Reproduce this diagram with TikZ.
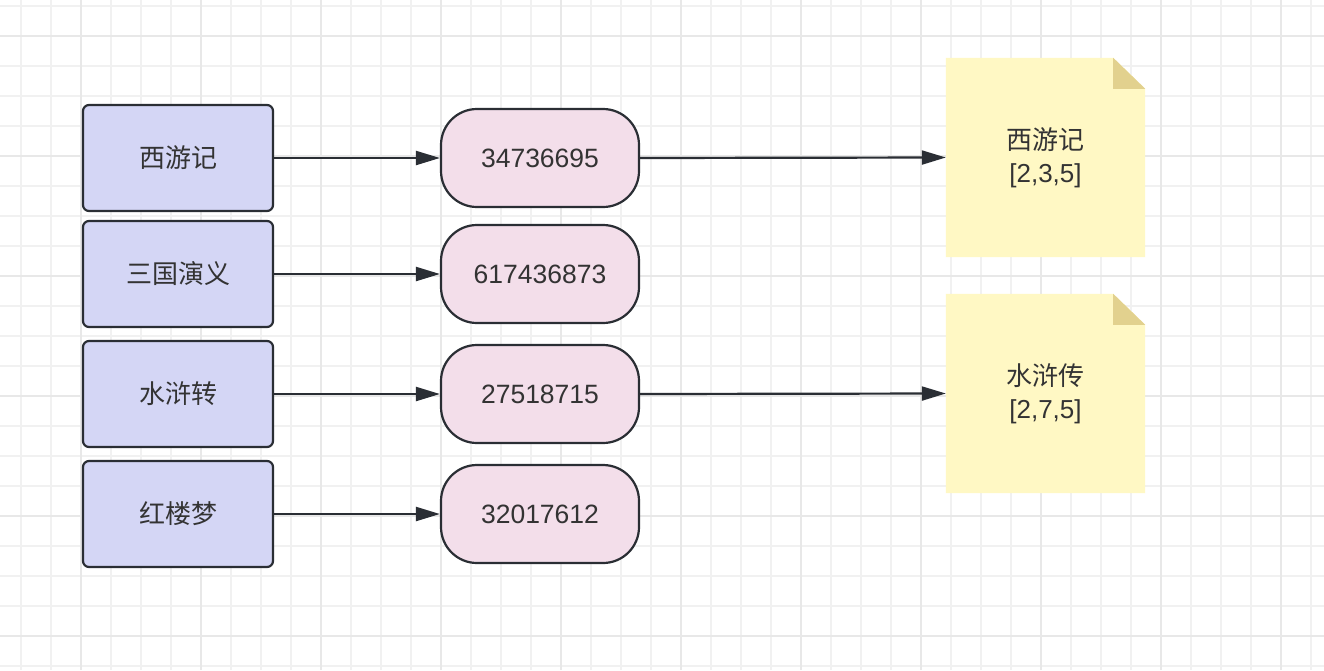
\documentclass[tikz,border=0pt]{standalone}
\usepackage{fontspec}
\setmainfont{Noto Sans CJK SC}
\newfontfamily\latinfont{Liberation Sans}
\usetikzlibrary{arrows.meta}
\definecolor{gridminor}{RGB}{241,241,241}
\definecolor{gridmajor}{RGB}{232,232,232}
\definecolor{bluefill}{RGB}{212,214,245}
\definecolor{pinkfill}{RGB}{243,222,234}
\definecolor{notefill}{RGB}{255,248,196}
\definecolor{foldfill}{RGB}{226,209,142}
\definecolor{edge}{RGB}{42,46,52}
\definecolor{txt}{RGB}{51,51,51}
\tikzset{
  x=1pt, y=-1pt,
  bookbox/.style={draw=edge, line width=2.2pt, fill=bluefill, rounded corners=6pt,
    minimum width=190pt, minimum height=106pt, inner sep=0pt,
    font=\fontsize{26}{30}\selectfont, text=txt},
  hashbox/.style={draw=edge, line width=2.2pt, fill=pinkfill, rounded corners=36pt,
    minimum width=198pt, minimum height=98pt, inner sep=0pt,
    font=\latinfont\fontsize{26.5}{30}\selectfont, text=txt},
  notebox/.style={minimum width=199pt, minimum height=199pt, inner sep=0pt,
    align=center, font=\fontsize{26}{33}\selectfont, text=txt},
  conn/.style={draw=edge, line width=2.2pt, -{Triangle[length=24pt,width=14pt]}},
}
\begin{document}
\begin{tikzpicture}
\useasboundingbox (0,0) rectangle (1324,670);
\fill[white] (0,0) rectangle (1324,670);
% grid
\foreach \gx in {21,51,...,1320} \draw[gridminor, line width=1.5pt] (\gx,0) -- (\gx,670);
\foreach \gy in {6,36,...,668} \draw[gridminor, line width=1.5pt] (0,\gy) -- (1324,\gy);
\foreach \gx in {81,201,...,1320} \draw[gridmajor, line width=2pt] (\gx,0) -- (\gx,670);
\foreach \gy in {36,156,...,668} \draw[gridmajor, line width=2pt] (0,\gy) -- (1324,\gy);

% books
\node[bookbox] (b1) at (178,158) {西游记};
\node[bookbox] (b2) at (178,274) {三国演义};
\node[bookbox] (b3) at (178,394) {水浒转};
\node[bookbox] (b4) at (178,514) {红楼梦};

% hashes
\node[hashbox] (h1) at (540,158) {34736695};
\node[hashbox] (h2) at (540,274) {617436873};
\node[hashbox] (h3) at (540,394) {27518715};
\node[hashbox] (h4) at (540,514) {32017612};

% notes
\node[notebox] (n1) at (1045.5,157.5) {};
\node[notebox] (n2) at (1045.5,393.5) {};
\foreach \n in {n1,n2}{
  \fill[notefill] (\n.north west) -- ([xshift=-32pt]\n.north east) -- ([yshift=-31pt]\n.north east) -- (\n.south east) -- (\n.south west) -- cycle;
  \fill[foldfill] ([xshift=-32pt]\n.north east) -- ([xshift=-32pt,yshift=-31pt]\n.north east) -- ([yshift=-31pt]\n.north east) -- cycle;
}
\node[notebox] at (n1) {西游记\\{\latinfont [2,3,5]}};
\node[notebox] at (n2) {水浒传\\{\latinfont [2,7,5]}};

% connectors
\draw[conn] (b1.east) -- (h1.west);
\draw[conn] (b2.east) -- (h2.west);
\draw[conn] (b3.east) -- (h3.west);
\draw[conn] (b4.east) -- (h4.west);
\draw[conn] (h1.east) -- (n1.west);
\draw[conn] (h3.east) -- (n2.west);
\end{tikzpicture}
\end{document}
